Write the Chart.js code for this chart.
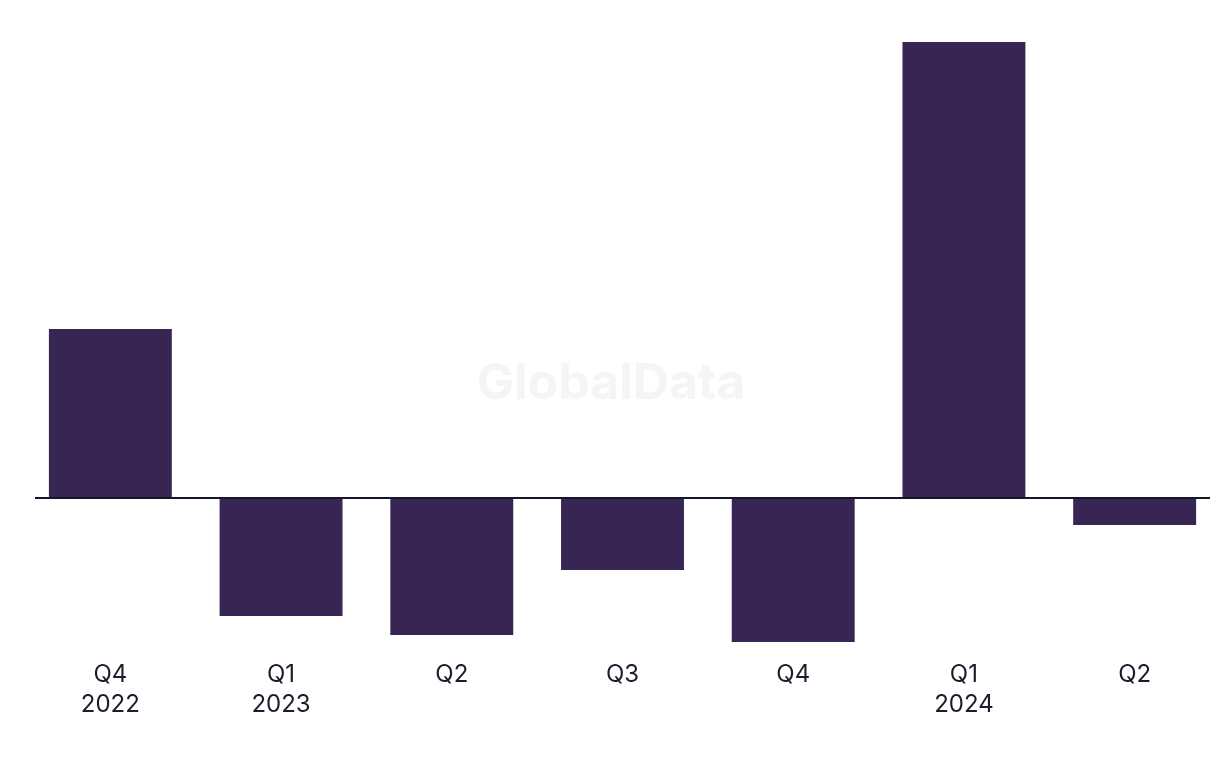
<!DOCTYPE html>
<html>
<head>
<meta charset="utf-8">
<script src="https://cdn.jsdelivr.net/npm/chart.js@4/dist/chart.umd.min.js"></script>
<style>
html,body{margin:0;padding:0;background:#fff;overflow:hidden;}
#wrap{width:1220px;height:768px;position:relative;}
</style>
</head>
<body>
<div id="wrap"><canvas id="c" width="1220" height="768"></canvas></div>
<script>
const categories = [["Q4","2022"], ["Q1","2023"], "Q2", "Q3", "Q4", ["Q1","2024"], "Q2"];
const values = [169, -118, -137, -72, -144, 456, -27];
const barColor = "#372653";

const zeroLine = {
  id: "zeroLine",
  beforeDatasetsDraw(chart) {
    const ctx = chart.ctx;
    ctx.save();
    ctx.font = "bold 50px Inter, 'Liberation Sans', sans-serif";
    ctx.fillStyle = "#f5f5f5";
    ctx.textAlign = "center";
    ctx.textBaseline = "middle";
    ctx.fillText("GlobalData", 611, 384);
    ctx.restore();
  },
  afterDatasetsDraw(chart) {
    const ctx = chart.ctx;
    const y = chart.scales.y.getPixelForValue(0);
    ctx.save();
    ctx.strokeStyle = "#16162a";
    ctx.lineWidth = 2;
    ctx.beginPath();
    ctx.moveTo(35, Math.round(y));
    ctx.lineTo(1210, Math.round(y));
    ctx.stroke();
    ctx.restore();
  }
};

new Chart(document.getElementById("c"), {
  type: "bar",
  data: {
    labels: categories,
    datasets: [{
      data: values,
      backgroundColor: barColor,
      borderWidth: 0,
      barPercentage: 0.72,
      categoryPercentage: 1.0
    }]
  },
  options: {
    responsive: false,
    animation: false,
    devicePixelRatio: 1,
    layout: { padding: { left: 25, right: 0, top: 42, bottom: 30 } },
    plugins: { legend: { display: false }, tooltip: { enabled: false } },
    scales: {
      x: {
        grid: { display: false, drawTicks: false },
        border: { display: false },
        ticks: {
          color: "#1c1c2c",
          font: { family: "Inter, 'Liberation Sans', sans-serif", size: 24, lineHeight: 1.25 },
          padding: 18,
          maxRotation: 0,
          autoSkip: false
        }
      },
      y: {
        display: false,
        min: -144,
        max: 456
      }
    }
  },
  plugins: [zeroLine]
});
</script>
</body>
</html>
